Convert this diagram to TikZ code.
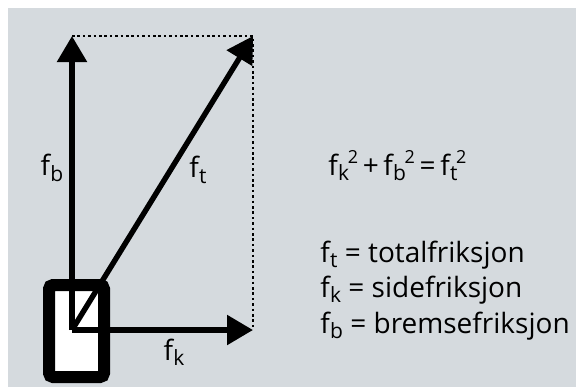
\documentclass[tikz,border=0pt]{standalone}
\usepackage{fontspec}
\setmainfont{Open Sans}
\usetikzlibrary{arrows.meta}
\definecolor{panelgray}{RGB}{213,218,222}
\newcommand\fof[1]{f\kern0.01em\raisebox{-0.35ex}{\fontsize{10.5}{11}\selectfont #1}}
\newcommand\sqr{\kern-0.05em\raisebox{0.75ex}{\fontsize{9}{10}\selectfont 2}}
\begin{document}
\begin{tikzpicture}[x=0.5pt,y=-0.5pt,
  vec/.style={line width=2.7pt,-{Triangle[length=13pt,width=14.5pt]}},
  guide/.style={line width=1.3pt,dash pattern=on 1.3pt off 1.4pt},
  lbl/.style={inner sep=0pt,font=\fontsize{14}{16}\selectfont},
  txt/.style={anchor=base west,inner sep=0pt,font=\fontsize{14}{16}\selectfont}]
  \useasboundingbox (0,0) rectangle (576,387);
  \fill[panelgray] (8,8) rectangle (576,387);
  \coordinate (O) at (72,330);
  \coordinate (B) at (72,36);
  \coordinate (K) at (253,330);
  \coordinate (T) at (253,36);
  \draw[guide] (B) -- (T) -- (K);
  \draw[line width=6pt, fill=white, rounded corners=2pt] (49,285) rectangle (104,377);
  \draw[vec] (O) -- (B);
  \draw[vec] (O) -- (K);
  \draw[vec] (O) -- (T);
  \node[lbl] (fb) at (52,168) {\fof{b}};
  \node[lbl] (ft) at (198,170) {\fof{t}};
  \node[lbl] (fk) at (174,352) {\fof{k}};
  \node[txt] (eq) at (328,175) {\fof{k}\sqr\,+\,\fof{b}\sqr\,=\,\fof{t}\sqr};
  \node[txt] (deft) at (320,262) {\fof{t} = totalfriksjon};
  \node[txt] (defk) at (320,297) {\fof{k} = sidefriksjon};
  \node[txt] (defb) at (320,333) {\fof{b} = bremsefriksjon};
\end{tikzpicture}
\end{document}
